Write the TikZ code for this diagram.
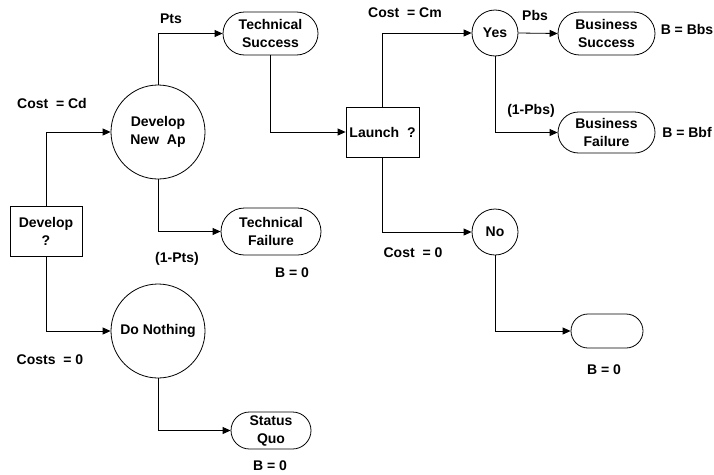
\documentclass[tikz,border=0pt]{standalone}
\usepackage{fontspec}
\setmainfont{Liberation Sans}
\usetikzlibrary{arrows.meta,shapes.misc}
\begin{document}
\begin{tikzpicture}[x=1pt,y=-1pt,
  every node/.style={font=\bfseries\fontsize{14}{18}\selectfont, inner sep=0pt},
  decision/.style={draw, line width=0.8pt, rectangle, minimum width=72pt, minimum height=50pt, align=center},
  chance/.style={draw, line width=0.8pt, circle, align=center},
  outcome/.style={draw, line width=0.8pt, rounded rectangle, align=center},
  lbl/.style={anchor=center},
  conn/.style={draw, line width=0.8pt, -{Triangle[length=8pt,width=7pt]}}]
\useasboundingbox (0,0) rectangle (714,474);

% decision nodes
\node[decision] (dev) at (46,231) {Develop\\?};
\node[decision, minimum width=73pt] (launch) at (382.5,132) {Launch\ \ ?};

% chance nodes
\node[chance, minimum size=94pt] (dna) at (158,132) {Develop\\New\ \ Ap};
\node[chance, minimum size=94pt] (dn) at (158,331) {Do Nothing};
\node[chance, minimum size=46pt] (yes) at (495,33) {Yes};
\node[chance, minimum size=46pt] (no) at (495,232) {No};

% outcome nodes
\node[outcome, minimum width=95pt, minimum height=43pt] (ts) at (270.5,33.5) {Technical\\Success};
\node[outcome, minimum width=100pt, minimum height=47pt] (tf) at (271,231.5) {Technical\\Failure};
\node[outcome, minimum width=80pt, minimum height=37pt] (sq) at (271,430.5) {Status\\Quo};
\node[outcome, minimum width=97pt, minimum height=43pt] (bs) at (606.5,33.5) {Business\\Success};
\node[outcome, minimum width=97pt, minimum height=41pt] (bf) at (606.5,132.5) {Business\\Failure};
\node[outcome, minimum width=72pt, minimum height=34pt] (nb) at (607,331) {};

% connectors
\draw[conn] (dev.north) |- (dna.west);
\draw[conn] (dev.south) |- (dn.west);
\draw[conn] (dna.north) |- (ts.west);
\draw[conn] (dna.south) |- (tf.west);
\draw[conn] (dn.south) |- (sq.west);
\draw[conn] (ts.south) |- (launch.west);
\draw[conn] (launch.north) |- (yes.west);
\draw[conn] (launch.south) |- (no.west);
\draw[conn] (yes.east) -- (bs.west);
\draw[conn] (yes.south) |- (bf.west);
\draw[conn] (no.south) |- (nb.west);

% branch labels
\node[lbl] (lcd) at (52,103) {Cost\ \ = Cd};
\node[lbl] (lcs) at (50,360) {Costs\ \ = 0};
\node[lbl] (lpts) at (171,19) {Pts};
\node[lbl] (l1pts) at (177,259) {(1-Pts)};
\node[lbl] (lcm) at (405,13) {Cost\ \ = Cm};
\node[lbl] (lc0) at (413,253) {Cost\ \ = 0};
\node[lbl] (lpbs) at (535,15) {Pbs};
\node[lbl] (l1pbs) at (531,111) {(1-Pbs)};

% payoff labels
\node[lbl] (btf) at (292,273) {B = 0};
\node[lbl] (bsq) at (270,466) {B = 0};
\node[lbl] (bno) at (604,370) {B = 0};
\node[lbl] (bbs) at (687,29) {B = Bbs};
\node[lbl] (bbf) at (687,132) {B = Bbf};
\end{tikzpicture}
\end{document}
